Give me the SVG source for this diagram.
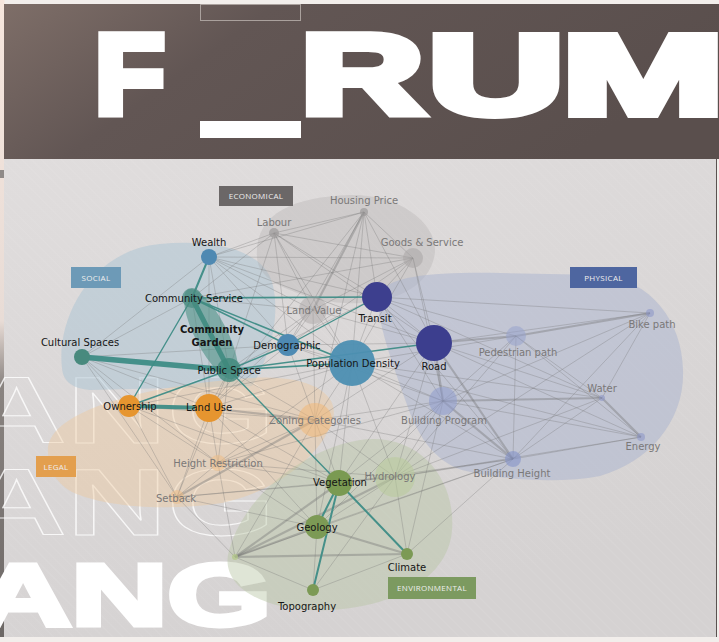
<svg xmlns="http://www.w3.org/2000/svg" width="719" height="642" viewBox="0 0 719 642">
<defs>
<linearGradient id="hdr" x1="0" y1="0" x2="1" y2="0.3">
<stop offset="0" stop-color="#7e6e68"/>
<stop offset="0.35" stop-color="#625654"/>
<stop offset="1" stop-color="#5a4f4d"/>
</linearGradient>
<linearGradient id="pnl" x1="0" y1="0" x2="0.4" y2="1">
<stop offset="0" stop-color="#e0dddd"/>
<stop offset="1" stop-color="#d5d2d2"/>
</linearGradient>
<linearGradient id="strip" x1="0" y1="0" x2="0" y2="1">
<stop offset="0" stop-color="#f6e6dd"/>
<stop offset="0.5" stop-color="#e8dcd6"/>
<stop offset="0.6" stop-color="#8a8481"/>
<stop offset="1" stop-color="#6c6765"/>
</linearGradient>
<pattern id="stripes" width="7" height="7" patternUnits="userSpaceOnUse" patternTransform="rotate(-45)">
<line x1="0" y1="0" x2="0" y2="7" stroke="#ffffff" stroke-width="1" stroke-opacity="0.12"/>
</pattern>
</defs>
<style>
.e{stroke:#707070;stroke-opacity:0.3;stroke-width:1;fill:none}
.et{stroke:#707070;stroke-opacity:0.38;stroke-width:2.2;fill:none}
.t{stroke:#3e8c86;stroke-opacity:0.95;fill:none;stroke-linecap:round}
.lb{font-family:"DejaVu Sans","Noto Sans",sans-serif;font-size:10px;text-anchor:middle;fill:#151515}
.lg{font-family:"DejaVu Sans","Noto Sans",sans-serif;font-size:10px;text-anchor:middle;fill:#7a7878}
.cat{font-family:"Open Sans","DejaVu Sans",sans-serif;font-size:8px;text-anchor:middle;fill:#eeeeee;letter-spacing:0.3px}
.big{font-family:"Liberation Sans",Arial,sans-serif;font-weight:bold;fill:#ffffff;stroke:#ffffff;stroke-linejoin:miter}
.out{font-family:"Liberation Sans",Arial,sans-serif;font-weight:bold;fill:none;stroke:#ffffff;stroke-width:1;stroke-opacity:0.8}
</style>

<!-- page background -->
<rect x="0" y="0" width="719" height="642" fill="#f2eeeb"/>
<rect x="0" y="0" width="4.5" height="642" fill="url(#strip)"/>
<rect x="0" y="170" width="4" height="8" fill="#8f8a88"/>
<rect x="4" y="158" width="713" height="479" fill="url(#pnl)"/>
<rect x="4" y="158" width="713" height="479" fill="url(#stripes)"/>
<line x1="716.5" y1="158" x2="716.5" y2="637" stroke="#5a5250" stroke-width="1"/>

<!-- header -->
<g id="header">
<rect x="4" y="4" width="715" height="155" fill="url(#hdr)"/>
<rect x="200.5" y="4.5" width="100" height="16" fill="none" stroke="#aaa19d" stroke-width="1"/>
<text class="big" font-size="113" stroke-width="8" transform="translate(94.7,114) scale(1.016,1)">F</text>
<rect x="200" y="121" width="101" height="17" fill="#ffffff"/>
<text class="big" font-size="113" stroke-width="8" transform="translate(300.6,114) scale(1.512,1)">R</text>
<text class="big" font-size="113" stroke-width="8" transform="translate(428,114) scale(1.669,1)">U</text>
<text class="big" font-size="113" stroke-width="8" transform="translate(561.9,114) scale(1.72,1)">M</text>
</g>

<!-- background lettering -->
<g id="lettering">
<text class="out" font-size="94" transform="translate(-33.4,443) scale(1.476,1)">ANG</text>
<text class="out" font-size="94" transform="translate(-33.4,535) scale(1.476,1)">ANG</text>
<text class="big" font-size="88" stroke-width="5" transform="translate(-25,624.5) scale(1.514,1)">ANG</text>
</g>

<!-- category regions -->
<g id="regions">
<path id="region-social" d="M62,368 C56,318 92,250 160,244 C215,239 262,250 272,282 C282,318 268,360 252,386 L90,390 C70,388 63,380 62,368 Z" fill="#a9c3d4" fill-opacity="0.5"/>
<path id="region-economical" d="M257,258 C254,214 292,197 350,195 C402,194 442,226 434,258 C428,283 405,294 385,300 C350,307 320,302 295,292 C270,283 258,272 257,258 Z" fill="#a8a4a4" fill-opacity="0.28"/>
<path id="region-physical" d="M380,292 C392,276 432,272 500,273 L600,275 C652,280 682,322 683,370 C685,420 650,462 600,476 C558,484 500,480 462,470 C432,460 416,432 406,402 C396,372 372,312 380,292 Z" fill="#a9b3d0" fill-opacity="0.5"/>
<path id="region-legal" d="M48,452 C45,410 150,385 250,378 C312,374 342,395 332,422 C322,452 282,490 222,503 C162,512 102,506 72,492 C54,482 48,466 48,452 Z" fill="#edc9a0" fill-opacity="0.45"/>
<path id="region-environmental" d="M228,555 C240,500 300,450 360,440 C420,432 456,480 452,530 C449,575 400,606 330,610 C270,613 222,590 228,555 Z" fill="#b7c6a4" fill-opacity="0.45"/>
</g>

<!-- connectors -->
<g id="connectors">
<g id="gray-edges">
<line class="e" x1="209" y1="257" x2="274" y2="233"/>
<line class="e" x1="209" y1="257" x2="364" y2="212"/>
<line class="e" x1="209" y1="257" x2="413" y2="258"/>
<line class="e" x1="209" y1="257" x2="313" y2="310"/>
<line class="e" x1="209" y1="257" x2="377" y2="297"/>
<line class="e" x1="209" y1="257" x2="352" y2="363"/>
<line class="e" x1="209" y1="257" x2="288" y2="345"/>
<line class="e" x1="209" y1="257" x2="434" y2="343"/>
<line class="e" x1="209" y1="257" x2="82" y2="357"/>
<line class="e" x1="209" y1="257" x2="229" y2="370"/>
<line class="e" x1="209" y1="257" x2="209" y2="408"/>
<line class="e" x1="274" y1="233" x2="364" y2="212"/>
<line class="e" x1="274" y1="233" x2="413" y2="258"/>
<line class="e" x1="274" y1="233" x2="313" y2="310"/>
<line class="e" x1="274" y1="233" x2="377" y2="297"/>
<line class="e" x1="274" y1="233" x2="352" y2="363"/>
<line class="e" x1="274" y1="233" x2="288" y2="345"/>
<line class="e" x1="274" y1="233" x2="434" y2="343"/>
<line class="e" x1="274" y1="233" x2="192" y2="298"/>
<line class="e" x1="274" y1="233" x2="229" y2="370"/>
<line class="e" x1="364" y1="212" x2="413" y2="258"/>
<line class="et" x1="364" y1="212" x2="313" y2="310"/>
<line class="e" x1="364" y1="212" x2="377" y2="297"/>
<line class="e" x1="364" y1="212" x2="352" y2="363"/>
<line class="e" x1="364" y1="212" x2="434" y2="343"/>
<line class="e" x1="364" y1="212" x2="288" y2="345"/>
<line class="e" x1="364" y1="212" x2="209" y2="408"/>
<line class="e" x1="364" y1="212" x2="315" y2="420"/>
<line class="e" x1="413" y1="258" x2="313" y2="310"/>
<line class="e" x1="413" y1="258" x2="377" y2="297"/>
<line class="e" x1="413" y1="258" x2="352" y2="363"/>
<line class="e" x1="413" y1="258" x2="434" y2="343"/>
<line class="e" x1="413" y1="258" x2="443" y2="401"/>
<line class="e" x1="413" y1="258" x2="288" y2="345"/>
<line class="e" x1="413" y1="258" x2="192" y2="298"/>
<line class="e" x1="313" y1="310" x2="352" y2="363"/>
<line class="e" x1="313" y1="310" x2="288" y2="345"/>
<line class="e" x1="313" y1="310" x2="434" y2="343"/>
<line class="e" x1="313" y1="310" x2="209" y2="408"/>
<line class="e" x1="313" y1="310" x2="315" y2="420"/>
<line class="e" x1="313" y1="310" x2="192" y2="298"/>
<line class="e" x1="192" y1="298" x2="82" y2="357"/>
<line class="e" x1="192" y1="298" x2="209" y2="408"/>
<line class="e" x1="82" y1="357" x2="288" y2="345"/>
<line class="e" x1="82" y1="357" x2="129" y2="406"/>
<line class="e" x1="82" y1="357" x2="209" y2="408"/>
<line class="e" x1="82" y1="357" x2="218" y2="463"/>
<line class="e" x1="82" y1="357" x2="177" y2="497"/>
<line class="e" x1="82" y1="357" x2="315" y2="420"/>
<line class="e" x1="229" y1="370" x2="209" y2="408"/>
<line class="e" x1="229" y1="370" x2="315" y2="420"/>
<line class="e" x1="229" y1="370" x2="218" y2="463"/>
<line class="e" x1="229" y1="370" x2="177" y2="497"/>
<line class="e" x1="229" y1="370" x2="377" y2="297"/>
<line class="e" x1="229" y1="370" x2="313" y2="310"/>
<line class="e" x1="288" y1="345" x2="352" y2="363"/>
<line class="e" x1="288" y1="345" x2="434" y2="343"/>
<line class="e" x1="288" y1="345" x2="315" y2="420"/>
<line class="e" x1="288" y1="345" x2="209" y2="408"/>
<line class="e" x1="288" y1="345" x2="443" y2="401"/>
<line class="e" x1="352" y1="363" x2="516" y2="336"/>
<line class="e" x1="352" y1="363" x2="443" y2="401"/>
<line class="e" x1="352" y1="363" x2="602" y2="398"/>
<line class="e" x1="352" y1="363" x2="641" y2="437"/>
<line class="e" x1="352" y1="363" x2="513" y2="459"/>
<line class="e" x1="352" y1="363" x2="339" y2="483"/>
<line class="e" x1="352" y1="363" x2="317" y2="527"/>
<line class="e" x1="352" y1="363" x2="395" y2="477"/>
<line class="e" x1="352" y1="363" x2="315" y2="420"/>
<line class="e" x1="352" y1="363" x2="209" y2="408"/>
<line class="e" x1="352" y1="363" x2="377" y2="297"/>
<line class="e" x1="352" y1="363" x2="129" y2="406"/>
<line class="e" x1="352" y1="363" x2="218" y2="463"/>
<line class="e" x1="377" y1="297" x2="434" y2="343"/>
<line class="e" x1="377" y1="297" x2="516" y2="336"/>
<line class="e" x1="377" y1="297" x2="650" y2="313"/>
<line class="e" x1="377" y1="297" x2="443" y2="401"/>
<line class="e" x1="377" y1="297" x2="602" y2="398"/>
<line class="e" x1="377" y1="297" x2="513" y2="459"/>
<line class="et" x1="434" y1="343" x2="516" y2="336"/>
<line class="e" x1="434" y1="343" x2="650" y2="313"/>
<line class="et" x1="434" y1="343" x2="443" y2="401"/>
<line class="e" x1="434" y1="343" x2="602" y2="398"/>
<line class="e" x1="434" y1="343" x2="641" y2="437"/>
<line class="et" x1="434" y1="343" x2="513" y2="459"/>
<line class="e" x1="434" y1="343" x2="395" y2="477"/>
<line class="e" x1="434" y1="343" x2="339" y2="483"/>
<line class="e" x1="434" y1="343" x2="315" y2="420"/>
<line class="et" x1="516" y1="336" x2="650" y2="313"/>
<line class="e" x1="516" y1="336" x2="513" y2="459"/>
<line class="e" x1="516" y1="336" x2="602" y2="398"/>
<line class="e" x1="516" y1="336" x2="641" y2="437"/>
<line class="e" x1="516" y1="336" x2="443" y2="401"/>
<line class="e" x1="516" y1="336" x2="395" y2="477"/>
<line class="e" x1="650" y1="313" x2="443" y2="401"/>
<line class="e" x1="650" y1="313" x2="513" y2="459"/>
<line class="e" x1="650" y1="313" x2="395" y2="477"/>
<line class="e" x1="650" y1="313" x2="602" y2="398"/>
<line class="et" x1="602" y1="398" x2="641" y2="437"/>
<line class="e" x1="602" y1="398" x2="513" y2="459"/>
<line class="e" x1="602" y1="398" x2="395" y2="477"/>
<line class="et" x1="602" y1="398" x2="443" y2="401"/>
<line class="e" x1="641" y1="437" x2="443" y2="401"/>
<line class="e" x1="641" y1="437" x2="513" y2="459"/>
<line class="e" x1="641" y1="437" x2="395" y2="477"/>
<line class="e" x1="443" y1="401" x2="395" y2="477"/>
<line class="e" x1="443" y1="401" x2="339" y2="483"/>
<line class="e" x1="443" y1="401" x2="317" y2="527"/>
<line class="e" x1="443" y1="401" x2="315" y2="420"/>
<line class="e" x1="443" y1="401" x2="407" y2="554"/>
<line class="et" x1="443" y1="401" x2="513" y2="459"/>
<line class="e" x1="513" y1="459" x2="395" y2="477"/>
<line class="e" x1="513" y1="459" x2="317" y2="527"/>
<line class="e" x1="513" y1="459" x2="339" y2="483"/>
<line class="e" x1="513" y1="459" x2="235" y2="557"/>
<line class="e" x1="513" y1="459" x2="407" y2="554"/>
<line class="e" x1="129" y1="406" x2="218" y2="463"/>
<line class="e" x1="129" y1="406" x2="177" y2="497"/>
<line class="e" x1="129" y1="406" x2="315" y2="420"/>
<line class="e" x1="129" y1="406" x2="339" y2="483"/>
<line class="et" x1="209" y1="408" x2="315" y2="420"/>
<line class="e" x1="209" y1="408" x2="218" y2="463"/>
<line class="e" x1="209" y1="408" x2="177" y2="497"/>
<line class="e" x1="209" y1="408" x2="317" y2="527"/>
<line class="e" x1="209" y1="408" x2="339" y2="483"/>
<line class="e" x1="218" y1="463" x2="177" y2="497"/>
<line class="e" x1="218" y1="463" x2="315" y2="420"/>
<line class="e" x1="218" y1="463" x2="235" y2="557"/>
<line class="e" x1="218" y1="463" x2="339" y2="483"/>
<line class="e" x1="218" y1="463" x2="317" y2="527"/>
<line class="e" x1="218" y1="463" x2="395" y2="477"/>
<line class="e" x1="218" y1="463" x2="443" y2="401"/>
<line class="e" x1="177" y1="497" x2="235" y2="557"/>
<line class="e" x1="177" y1="497" x2="339" y2="483"/>
<line class="e" x1="177" y1="497" x2="317" y2="527"/>
<line class="et" x1="177" y1="497" x2="315" y2="420"/>
<line class="e" x1="177" y1="497" x2="395" y2="477"/>
<line class="e" x1="315" y1="420" x2="339" y2="483"/>
<line class="e" x1="315" y1="420" x2="395" y2="477"/>
<line class="e" x1="315" y1="420" x2="317" y2="527"/>
<line class="e" x1="315" y1="420" x2="235" y2="557"/>
<line class="e" x1="315" y1="420" x2="513" y2="459"/>
<line class="e" x1="339" y1="483" x2="395" y2="477"/>
<line class="et" x1="339" y1="483" x2="235" y2="557"/>
<line class="e" x1="317" y1="527" x2="395" y2="477"/>
<line class="et" x1="317" y1="527" x2="407" y2="554"/>
<line class="e" x1="317" y1="527" x2="313" y2="590"/>
<line class="et" x1="317" y1="527" x2="235" y2="557"/>
<line class="e" x1="395" y1="477" x2="407" y2="554"/>
<line class="e" x1="395" y1="477" x2="313" y2="590"/>
<line class="et" x1="395" y1="477" x2="235" y2="557"/>
<line class="e" x1="407" y1="554" x2="313" y2="590"/>
<line class="et" x1="407" y1="554" x2="235" y2="557"/>
<line class="e" x1="313" y1="590" x2="235" y2="557"/>
</g>
<g id="teal-edges">
<line class="t" x1="82" y1="357" x2="229" y2="370" stroke-width="5.5"/>
<line class="t" x1="192" y1="298" x2="229" y2="370" stroke-width="5"/>
<line class="t" x1="209" y1="257" x2="192" y2="298" stroke-width="2"/>
<line class="t" x1="192" y1="298" x2="377" y2="297" stroke-width="1.6"/>
<line class="t" x1="192" y1="298" x2="288" y2="345" stroke-width="1.6"/>
<line class="t" x1="192" y1="298" x2="352" y2="363" stroke-width="1.6"/>
<line class="t" x1="192" y1="298" x2="129" y2="406" stroke-width="1.4"/>
<line class="t" x1="229" y1="370" x2="129" y2="406" stroke-width="1.4"/>
<line class="t" x1="129" y1="406" x2="209" y2="408" stroke-width="4"/>
<line class="t" x1="288" y1="345" x2="377" y2="297" stroke-width="1.4"/>
<line class="t" x1="229" y1="370" x2="352" y2="363" stroke-width="1.6"/>
<line class="t" x1="229" y1="370" x2="434" y2="343" stroke-width="1.4"/>
<line class="t" x1="229" y1="370" x2="288" y2="345" stroke-width="1.4"/>
<line class="t" x1="229" y1="370" x2="339" y2="483" stroke-width="1.4"/>
<line class="t" x1="339" y1="483" x2="317" y2="527" stroke-width="2"/>
<line class="t" x1="339" y1="483" x2="313" y2="590" stroke-width="2"/>
<line class="t" x1="339" y1="483" x2="407" y2="554" stroke-width="2"/>
</g>
</g>

<!-- nodes -->
<g id="node-community-garden">
<ellipse cx="211" cy="334" rx="50" ry="16" transform="rotate(62.8 211 334)" fill="#468c80" fill-opacity="0.55"/>
<text class="lb" x="212" y="332.5" font-weight="bold" fill="#222">Community</text>
<text class="lb" x="212" y="345.5" font-weight="bold" fill="#222">Garden</text>
</g>
<g id="node-wealth"><circle cx="209" cy="257" r="8" fill="#4e89b2"/></g>
<g id="node-labour"><circle cx="274" cy="233" r="5" fill="#9c9a9a" fill-opacity="0.7"/></g>
<g id="node-housing-price"><circle cx="364" cy="212" r="4" fill="#9c9a9a" fill-opacity="0.7"/></g>
<g id="node-goods-service"><circle cx="413" cy="258" r="10" fill="#a9a6a6" fill-opacity="0.55"/></g>
<g id="node-community-service"><circle cx="192" cy="298" r="10" fill="#488c80" fill-opacity="0.7"/></g>
<g id="node-land-value"><circle cx="313" cy="310" r="14" fill="#a9a5a5" fill-opacity="0.45"/></g>
<g id="node-transit"><circle cx="377" cy="297" r="15" fill="#3d3f8e"/></g>
<g id="node-demographic"><circle cx="288" cy="345" r="11" fill="#4f8ab3"/></g>
<g id="node-population-density"><circle cx="352" cy="363" r="23" fill="#4d8fb2" fill-opacity="0.95"/></g>
<g id="node-road"><circle cx="434" cy="343" r="18" fill="#3c3e8e"/></g>
<g id="node-cultural-spaces"><circle cx="82" cy="357" r="8" fill="#488a7e"/></g>
<g id="node-public-space"><circle cx="229" cy="370" r="12" fill="#3e887c" fill-opacity="0.8"/></g>
<g id="node-ownership"><circle cx="129" cy="406" r="11" fill="#e6952f"/></g>
<g id="node-land-use"><circle cx="209" cy="408" r="14" fill="#e6952f"/></g>
<g id="node-zoning-categories"><circle cx="315" cy="420" r="17" fill="#f0b878" fill-opacity="0.55"/></g>
<g id="node-height-restriction"><circle cx="218" cy="463" r="8" fill="#f0bc82" fill-opacity="0.5"/></g>
<g id="node-setback"><circle cx="177" cy="497" r="7" fill="#f0bc82" fill-opacity="0.5"/></g>
<g id="node-vegetation"><circle cx="339" cy="483" r="13" fill="#7a9a52"/></g>
<g id="node-hydrology"><circle cx="395" cy="477" r="20" fill="#b8ca9a" fill-opacity="0.55"/></g>
<g id="node-geology"><circle cx="317" cy="527" r="12" fill="#7c9a55"/></g>
<g id="node-climate"><circle cx="407" cy="554" r="6" fill="#7c9a55"/></g>
<g id="node-topography"><circle cx="313" cy="590" r="6" fill="#7c9a55"/></g>
<g id="node-unlabelled"><circle cx="235" cy="557" r="3" fill="#b4c88c" fill-opacity="0.8"/></g>
<g id="node-pedestrian-path"><circle cx="516" cy="336" r="10" fill="#98a2cc" fill-opacity="0.55"/></g>
<g id="node-bike-path"><circle cx="650" cy="313" r="4" fill="#8e98c8" fill-opacity="0.6"/></g>
<g id="node-water"><circle cx="602" cy="398" r="3" fill="#8e98c8" fill-opacity="0.6"/></g>
<g id="node-energy"><circle cx="641" cy="437" r="4" fill="#8e98c8" fill-opacity="0.6"/></g>
<g id="node-building-program"><circle cx="443" cy="401" r="14" fill="#8e9bcc" fill-opacity="0.55"/></g>
<g id="node-building-height"><circle cx="513" cy="459" r="8" fill="#8492c8" fill-opacity="0.6"/></g>

<!-- labels -->
<g id="labels">
<text class="lb" x="209" y="245.5">Wealth</text>
<text class="lg" x="274" y="225.5">Labour</text>
<text class="lg" x="364" y="203.5">Housing Price</text>
<text class="lg" x="422" y="245.5">Goods &amp; Service</text>
<text class="lb" x="194" y="301.5">Community Service</text>
<text class="lg" x="314" y="313.5">Land Value</text>
<text class="lb" x="375" y="321.5">Transit</text>
<text class="lb" x="287" y="348.5">Demographic</text>
<text class="lb" x="353" y="366.5">Population Density</text>
<text class="lb" x="434" y="369.5">Road</text>
<text class="lb" x="80" y="345.5">Cultural Spaces</text>
<text class="lb" x="229" y="373.5">Public Space</text>
<text class="lb" x="130" y="409.5">Ownership</text>
<text class="lb" x="209" y="410.5">Land Use</text>
<text class="lg" x="315" y="423.5">Zoning Categories</text>
<text class="lg" x="218" y="466.5">Height Restriction</text>
<text class="lg" x="176" y="501.5">Setback</text>
<text class="lb" x="340" y="485.5">Vegetation</text>
<text class="lg" x="390" y="479.5">Hydrology</text>
<text class="lb" x="317" y="530.5">Geology</text>
<text class="lb" x="407" y="570.5">Climate</text>
<text class="lb" x="307" y="609.5">Topography</text>
<text class="lg" x="518" y="355.5">Pedestrian path</text>
<text class="lg" x="652" y="327.5">Bike path</text>
<text class="lg" x="602" y="391.5">Water</text>
<text class="lg" x="643" y="449.5">Energy</text>
<text class="lg" x="444" y="423.5">Building Program</text>
<text class="lg" x="512" y="476.5">Building Height</text>
</g>

<!-- category tags -->
<g id="tag-economical"><rect x="219" y="186" width="74" height="20" fill="#6b6767"/><text class="cat" x="256" y="199">ECONOMICAL</text></g>
<g id="tag-social"><rect x="71" y="267" width="50" height="21" fill="#6d9ab7"/><text class="cat" x="96" y="280.5">SOCIAL</text></g>
<g id="tag-physical"><rect x="570" y="267" width="67" height="21" fill="#4e66a0"/><text class="cat" x="603.5" y="280.5">PHYSICAL</text></g>
<g id="tag-legal"><rect x="36" y="456" width="40" height="21" fill="#e39f4e"/><text class="cat" x="56" y="469.5">LEGAL</text></g>
<g id="tag-environmental"><rect x="388" y="577" width="88" height="22" fill="#7c9a60"/><text class="cat" x="432" y="591">ENVIRONMENTAL</text></g>

<rect x="0" y="637" width="719" height="5" fill="#f2eeeb"/>
</svg>
